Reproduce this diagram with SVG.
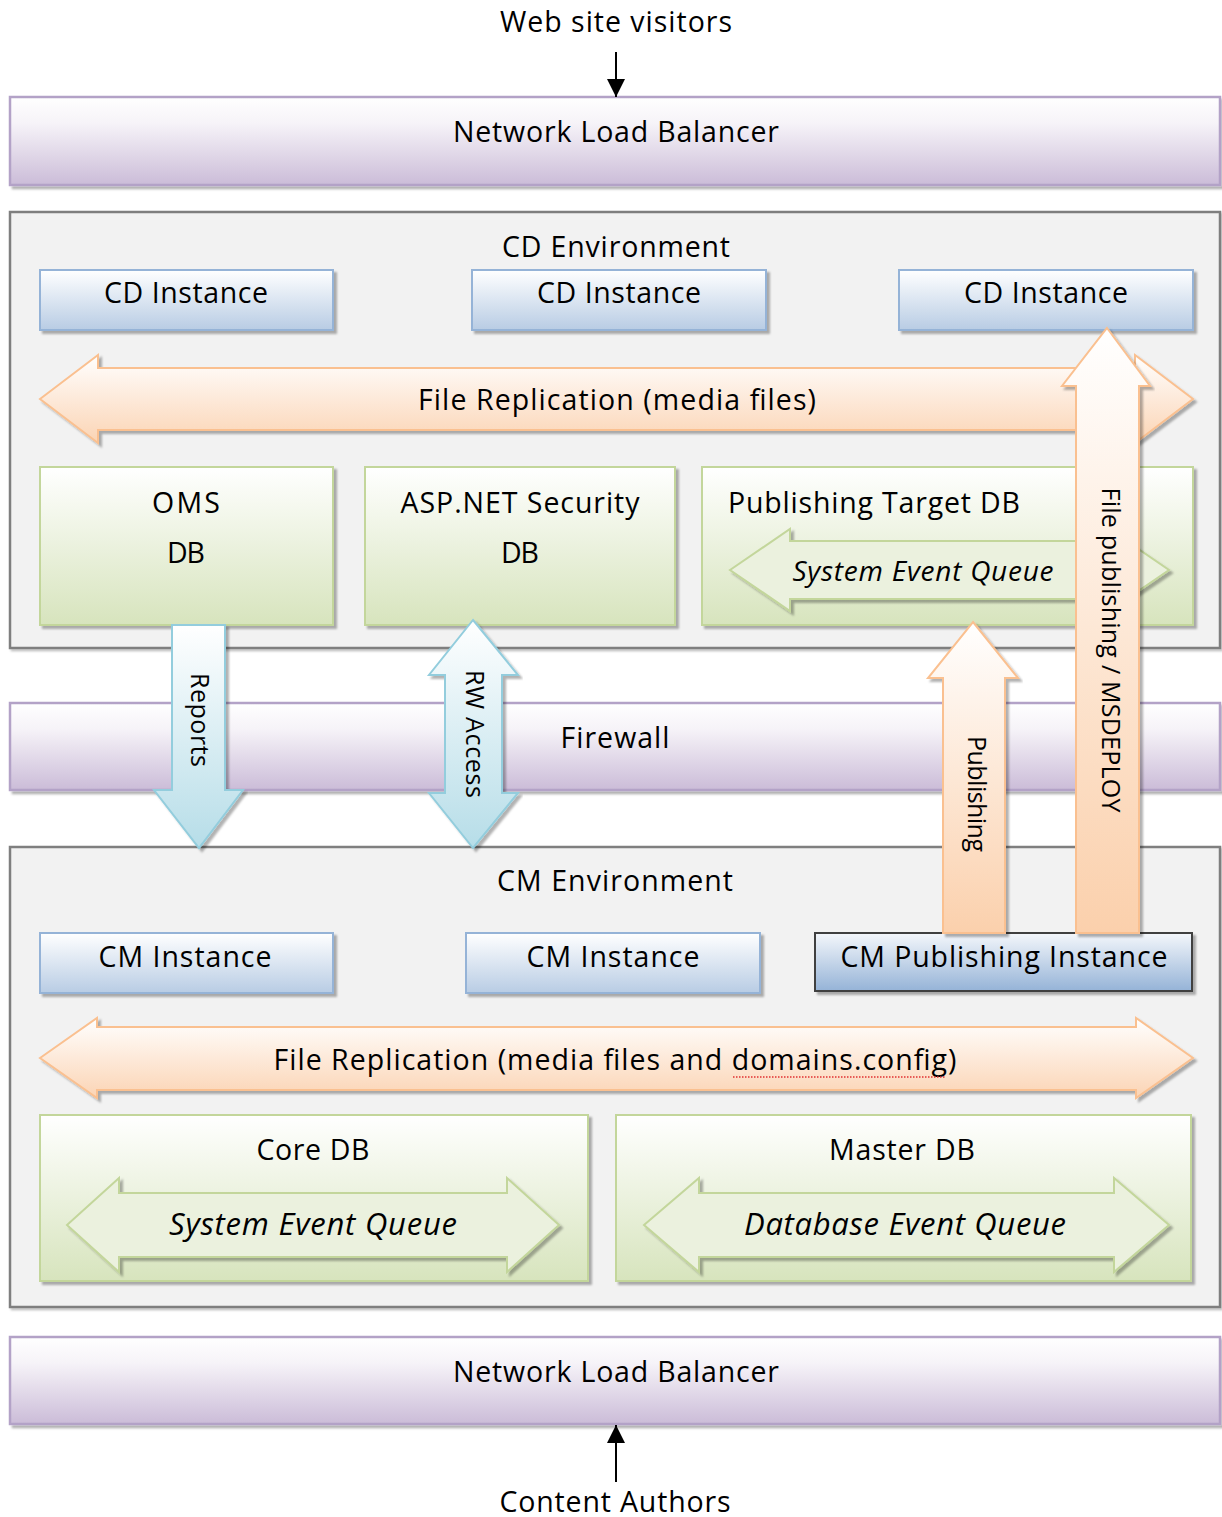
<svg xmlns="http://www.w3.org/2000/svg" width="1222" height="1517" viewBox="0 0 1222 1517">
<defs>
<style>
text{font-family:"Open Sans","Liberation Sans",sans-serif;fill:#000;font-size:28.5px}
.c{text-anchor:middle}
.it{font-style:italic;font-size:28px}
.it2{font-style:italic;font-size:31px}
.rot{font-size:25px;text-anchor:middle}
.lav{fill:url(#gLav);stroke:#b3a2c7;stroke-width:2.5;filter:url(#sh)}
.env{fill:#f2f2f2;stroke:#7f7f7f;stroke-width:2.5;filter:url(#sh2)}
.blue{fill:url(#gBlue);stroke:#95b3d7;stroke-width:2;filter:url(#sh)}
.green{fill:url(#gGreen);stroke:#c3d69b;stroke-width:2;filter:url(#sh)}
.orange{fill:url(#gOrange);stroke:#fac090;stroke-width:2;filter:url(#sh)}
.orangeV{fill:url(#gOrangeV);stroke:#fac090;stroke-width:2;filter:url(#sh)}
.queue{fill:#ebf1de;stroke:#c3d69b;stroke-width:2;filter:url(#sh)}
.cyan{fill:url(#gCyan);stroke:#93cddd;stroke-width:2;filter:url(#sh)}
.pub{fill:url(#gPub);stroke:#404040;stroke-width:2;filter:url(#sh)}
.ln{stroke:#000;stroke-width:2;fill:none}
</style>
<filter id="sh" x="-5%" y="-5%" width="110%" height="120%">
<feDropShadow dx="3" dy="3" stdDeviation="1" flood-color="#000" flood-opacity="0.3"/>
</filter>
<filter id="sh2" x="-5%" y="-5%" width="110%" height="120%">
<feDropShadow dx="2" dy="2" stdDeviation="1" flood-color="#000" flood-opacity="0.25"/>
</filter>
<linearGradient id="gLav" x1="0" y1="0" x2="0" y2="1"><stop offset="0" stop-color="#ffffff"/><stop offset="0.3" stop-color="#f6f3f8"/><stop offset="1" stop-color="#cbbcd8"/></linearGradient>
<linearGradient id="gBlue" x1="0" y1="0" x2="0" y2="1"><stop offset="0" stop-color="#ffffff"/><stop offset="1" stop-color="#b8cce4"/></linearGradient>
<linearGradient id="gPub" x1="0" y1="0" x2="0" y2="1"><stop offset="0" stop-color="#f4f7fb"/><stop offset="1" stop-color="#95b3d7"/></linearGradient>
<linearGradient id="gGreen" x1="0" y1="0" x2="0" y2="1"><stop offset="0" stop-color="#ffffff"/><stop offset="1" stop-color="#d7e4bd"/></linearGradient>
<linearGradient id="gOrange" x1="0" y1="0" x2="0" y2="1"><stop offset="0" stop-color="#ffffff"/><stop offset="1" stop-color="#fbd4b4"/></linearGradient>
<linearGradient id="gOrangeV" x1="0" y1="0" x2="0" y2="1"><stop offset="0" stop-color="#ffffff"/><stop offset="1" stop-color="#fbd0ac"/></linearGradient>
<linearGradient id="gCyan" x1="0" y1="0" x2="0" y2="1"><stop offset="0" stop-color="#ffffff"/><stop offset="1" stop-color="#b6dde8"/></linearGradient>
<marker id="ah" viewBox="0 0 10 10" refX="10" refY="5" markerWidth="18" markerHeight="18" markerUnits="userSpaceOnUse" orient="auto">
<path d="M0,0 L10,5 L0,10 Z" fill="#000"/>
</marker>
</defs>

<g id="visitors"><text class="c" x="616" y="32" textLength="232">Web site visitors</text></g>

<g id="nlb-top">
<rect class="lav" x="10" y="97" width="1210" height="88"/>
<text class="c" x="616" y="142" textLength="326">Network Load Balancer</text>
</g>

<g id="cd-env">
<rect class="env" x="10" y="212" width="1210" height="436"/>
<text class="c" x="616" y="257" textLength="228">CD Environment</text>
</g>

<g id="cd-instance-1"><rect class="blue" x="40" y="270" width="293" height="60"/><text class="c" x="186" y="303" textLength="164">CD Instance</text></g>
<g id="cd-instance-2"><rect class="blue" x="472" y="270" width="294" height="60"/><text class="c" x="619" y="303" textLength="164">CD Instance</text></g>
<g id="cd-instance-3"><rect class="blue" x="899" y="270" width="294" height="60"/><text class="c" x="1046" y="303" textLength="164">CD Instance</text></g>

<g id="file-replication-cd">
<path class="orange" d="M40,399 L98,355 L98,368 L1135,368 L1135,355 L1193,399 L1135,443 L1135,430 L98,430 L98,443 Z"/>
<text class="c" x="617" y="410" textLength="398">File Replication (media files)</text>
</g>

<g id="oms-db"><rect class="green" x="40" y="467" width="293" height="158"/><text class="c" x="186" y="513" textLength="68">OMS</text><text class="c" x="186" y="563" textLength="38">DB</text></g>
<g id="aspnet-db"><rect class="green" x="365" y="467" width="310" height="158"/><text class="c" x="520" y="513" textLength="239">ASP.NET Security</text><text class="c" x="520" y="563" textLength="38">DB</text></g>
<g id="publishing-target-db">
<rect class="green" x="702" y="467" width="491" height="158"/>
<text x="728" y="513" textLength="292">Publishing Target DB</text>
<path class="queue" d="M730,570 L790,529 L790,541 L1109,541 L1109,529 L1169,570 L1109,611 L1109,599 L790,599 L790,611 Z"/>
<text class="c it" x="923" y="581" textLength="261">System Event Queue</text>
</g>

<g id="firewall">
<rect class="lav" x="10" y="703" width="1210" height="87"/>
<text class="c" x="615" y="748" textLength="109">Firewall</text>
</g>

<g id="cm-env">
<rect class="env" x="10" y="847" width="1210" height="460"/>
<text class="c" x="615" y="891" textLength="236">CM Environment</text>
</g>

<g id="cm-instance-1"><rect class="blue" x="40" y="933" width="293" height="60"/><text class="c" x="185" y="967" textLength="173">CM Instance</text></g>
<g id="cm-instance-2"><rect class="blue" x="466" y="933" width="294" height="60"/><text class="c" x="613" y="967" textLength="173">CM Instance</text></g>
<g id="cm-publishing-instance"><rect class="pub" x="815" y="933" width="377" height="58"/><text class="c" x="1004" y="967" textLength="327">CM Publishing Instance</text></g>

<g id="file-replication-cm">
<path class="orange" d="M40,1058 L97,1018 L97,1027 L1136,1027 L1136,1018 L1193,1058 L1136,1098 L1136,1090 L97,1090 L97,1098 Z"/>
<text class="c" x="615" y="1070" textLength="683">File Replication (media files and domains.config)</text>
<line x1="733" y1="1077" x2="945" y2="1077" stroke="#e03030" stroke-width="1.5" stroke-dasharray="1.5 1.5"/>
</g>

<g id="core-db">
<rect class="green" x="40" y="1115" width="548" height="166"/>
<text class="c" x="313" y="1160" textLength="113">Core DB</text>
<path class="queue" d="M67,1225 L119,1178 L119,1193 L507,1193 L507,1178 L559,1225 L507,1272 L507,1257 L119,1257 L119,1272 Z"/>
<text class="c it2" x="313" y="1235" textLength="288">System Event Queue</text>
</g>

<g id="master-db">
<rect class="green" x="616" y="1115" width="575" height="166"/>
<text class="c" x="902" y="1160" textLength="146">Master DB</text>
<path class="queue" d="M644,1225 L699,1178 L699,1193 L1114,1193 L1114,1178 L1169,1225 L1114,1272 L1114,1257 L699,1257 L699,1272 Z"/>
<text class="c it2" x="905" y="1235" textLength="322">Database Event Queue</text>
</g>

<g id="nlb-bottom">
<rect class="lav" x="10" y="1337" width="1210" height="87"/>
<text class="c" x="616" y="1382" textLength="326">Network Load Balancer</text>
</g>

<g id="authors"><text class="c" x="615" y="1512" textLength="231">Content Authors</text></g>

<g id="connectors">
<line class="ln" x1="616" y1="52" x2="616" y2="97" marker-end="url(#ah)"/>
<line class="ln" x1="616" y1="1482" x2="616" y2="1425" marker-end="url(#ah)"/>
<g id="reports">
<path class="cyan" d="M172,625 L225,625 L225,790 L243,790 L199,848 L154,790 L172,790 Z"/>
<text class="rot" transform="translate(199,720) rotate(90)" x="0" y="8" textLength="94">Reports</text>
</g>
<g id="rw-access">
<path class="cyan" d="M473,620 L518,675 L502,675 L502,793 L518,793 L473,848 L429,793 L445,793 L445,675 L429,675 Z"/>
<text class="rot" transform="translate(474,734) rotate(90)" x="0" y="8" textLength="128">RW Access</text>
</g>
<g id="publishing">
<path class="orangeV" d="M973,622 L1018,678 L1005,678 L1005,933 L943,933 L943,678 L928,678 Z"/>
<text class="rot" transform="translate(976,794) rotate(90)" x="0" y="8" textLength="116">Publishing</text>
</g>
<g id="file-publishing">
<path class="orangeV" d="M1107,328 L1150,386 L1139,386 L1139,933 L1076,933 L1076,386 L1062,386 Z"/>
<text class="rot" transform="translate(1110,650) rotate(90)" x="0" y="8" textLength="325">File publishing / MSDEPLOY</text>
</g>
</g>
</svg>
